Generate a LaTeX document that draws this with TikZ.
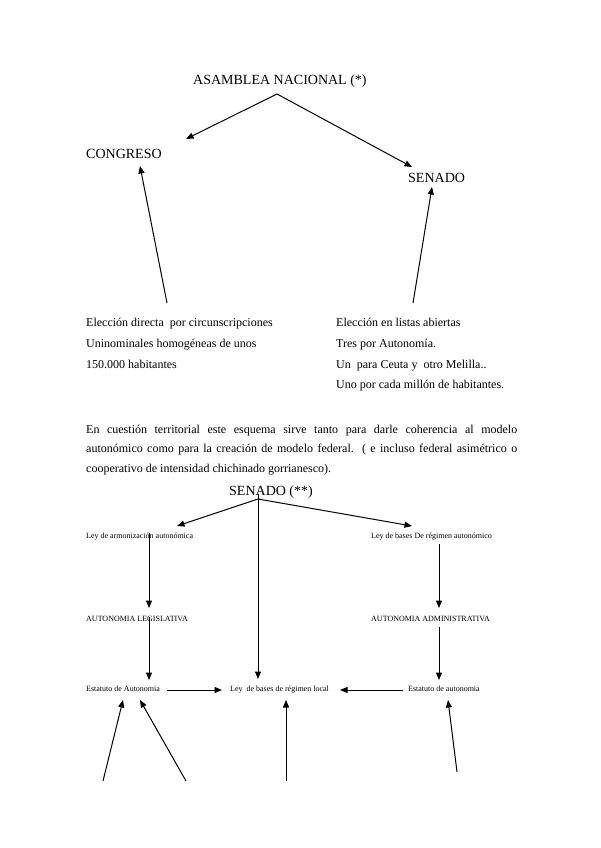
\documentclass[tikz,border=0pt]{standalone}
\usepackage{fontspec}
\setmainfont{Liberation Serif}
\usetikzlibrary{arrows.meta}

\tikzset{
  flecha/.style={-{Triangle[length=7.5pt,width=6pt]}, line width=1pt},
  titulo/.style={font=\fontsize{14}{16}\selectfont, inner sep=0pt, anchor=base west},
  texto/.style={font=\fontsize{12}{14}\selectfont, inner sep=0pt, anchor=base west},
  chico/.style={font=\fontsize{8}{9}\selectfont, inner sep=0pt, anchor=base west}
}

\begin{document}
\begin{tikzpicture}[x=1pt,y=-1pt]
  \useasboundingbox (0,0) rectangle (600,848);
  % primer esquema
  \node[titulo] (asamblea) at (193,85) {ASAMBLEA NACIONAL (*)};
  \node[titulo] (congreso) at (86,158) {CONGRESO};
  \node[titulo] (senado) at (408,182) {SENADO};
  \foreach \t [count=\i] in {Elección directa \ por circunscripciones,
      Uninominales homogéneas de unos, 150.000 habitantes}
    {\node[texto] (izq\i) at (86,306+20.7*\i) {\t};}
  \foreach \t [count=\i] in {Elección en listas abiertas, Tres por Autonomía.,
      Un \ para Ceuta y \ otro Melilla.., Uno por cada millón de habitantes.}
    {\node[texto] (der\i) at (336,306+20.7*\i) {\t};}
  \foreach \n/\x/\y in {cima/277/94, puntaC/186/139, puntaS/412/167,
      pieC/167/303, flechaC/140/166, pieS/413/303, flechaS/432/187}
    {\coordinate (\n) at (\x,\y);}
  \foreach \a/\b in {cima/puntaC, cima/puntaS, pieC/flechaC, pieS/flechaS}
    {\draw[flecha] (\a) -- (\b);}
  % parrafo
  \node[texto, font=\fontsize{12}{19.5}\selectfont, text width=431pt,
        align=justify] (parrafo) at (86,433)
    {En cuestión territorial este esquema sirve tanto para darle coherencia al modelo\linebreak
     autonómico como para la creación de modelo federal. ( e incluso federal asimétrico o\linebreak
     cooperativo de intensidad chichinado gorrianesco).};
  % segundo esquema
  \node[titulo] (senado2) at (229,495) {SENADO (**)};
  \node[chico] (armon) at (86,538) {Ley de armonización autonómica};
  \node[chico] (bases) at (371,538) {Ley de bases De régimen autonómico};
  \node[chico] (legis) at (86,621) {AUTONOMIA LEGISLATIVA};
  \node[chico] (admin) at (371,621) {AUTONOMIA ADMINISTRATIVA};
  \node[chico] (estat1) at (86,691) {Estatuto de Autonomia};
  \node[chico] (local) at (230,691) {Ley \ de bases de régimen local};
  \node[chico] (estat2) at (408,691) {Estatuto de autonomia};
  \foreach \n/\x/\y in {vertice/258/499, tallo/258/494, aArmon/177/526,
      aBases/412/526, aLocal/258/679, l1/149/533, l2/149/608, l3/149/617,
      l4/149/680, r1/439/544, r2/439/608, r3/439/627, r4/439/680,
      h1/167/690, h2/222/690, h3/403/690, h4/340/690,
      b1/103/781, b2/123/700, b3/186/781, b4/140/700,
      b5/286/781, b6/286/700, b7/457/772, b8/448/700}
    {\coordinate (\n) at (\x,\y);}
  \foreach \a/\b in {vertice/aArmon, vertice/aBases, tallo/aLocal, l1/l2,
      l3/l4, r1/r2, r3/r4, h1/h2, h3/h4, b1/b2, b3/b4, b5/b6, b7/b8}
    {\draw[flecha] (\a) -- (\b);}
\end{tikzpicture}
\end{document}
